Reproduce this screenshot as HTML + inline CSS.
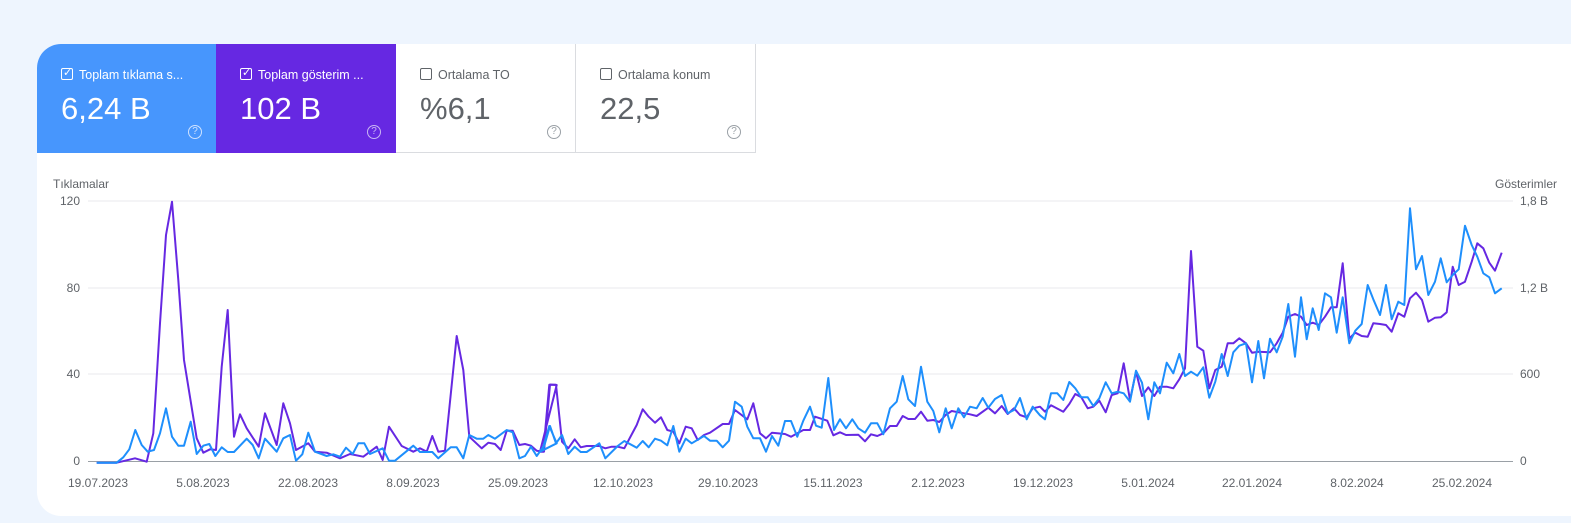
<!DOCTYPE html>
<html><head><meta charset="utf-8"><style>
body{margin:0;width:1571px;height:523px;background:#eef5fe;font-family:"Liberation Sans",sans-serif;overflow:hidden;position:relative}
.card{position:absolute;left:37px;top:44px;width:1560px;height:472px;background:#fff;border-radius:24px;overflow:hidden}
.m{position:absolute;top:0;height:109px;width:180px;box-sizing:border-box}
.m .t{position:absolute;left:24px;top:24px;font-size:12.5px;white-space:nowrap}
.m .v{position:absolute;left:24px;top:47px;font-size:31px}
.m .cb{display:inline-block;width:10px;height:10px;border:1px solid;border-radius:2px;vertical-align:-1px;margin-right:6px;position:relative}
.m .q{position:absolute;left:151px;top:81px;width:12px;height:12px;border:1.3px solid;border-radius:50%;font-size:10px;text-align:center;line-height:12px}
svg{position:absolute;left:0;top:0}
</style></head><body>
<div class="card">
<div class="m" style="left:0;background:#4796fd;color:#fff"><div class="t"><span class="cb" style="border-color:#fff"><span style="position:absolute;left:1px;top:-3px;font-size:11px">✓</span></span>Toplam tıklama s...</div><div class="v">6,24 B</div><div class="q" style="border-color:#cfe2ff;color:#cfe2ff">?</div></div>
<div class="m" style="left:179px;background:#6628e2;color:#fff"><div class="t"><span class="cb" style="border-color:#fff"><span style="position:absolute;left:1px;top:-3px;font-size:11px">✓</span></span>Toplam gösterim ...</div><div class="v">102 B</div><div class="q" style="border-color:#c9b6f4;color:#c9b6f4">?</div></div>
<div class="m" style="left:359px;border-right:1px solid #dadce0;border-bottom:1px solid #dadce0;color:#5f6368"><div class="t"><span class="cb" style="border-color:#5f6368"></span>Ortalama TO</div><div class="v">%6,1</div><div class="q" style="border-color:#9aa0a6;color:#9aa0a6">?</div></div>
<div class="m" style="left:539px;border-right:1px solid #dadce0;border-bottom:1px solid #dadce0;color:#5f6368"><div class="t"><span class="cb" style="border-color:#5f6368"></span>Ortalama konum</div><div class="v">22,5</div><div class="q" style="border-color:#9aa0a6;color:#9aa0a6">?</div></div>
</div>
<svg width="1571" height="523" id="s" font-family="Liberation Sans, sans-serif" font-size="12" fill="#5f6368">
<text x="53" y="188">Tıklamalar</text>
<text x="1557" y="188" text-anchor="end">Gösterimler</text>
<g stroke="#e8eaed" stroke-width="1"><line x1="88" y1="201" x2="1513" y2="201"/><line x1="88" y1="288" x2="1513" y2="288"/><line x1="88" y1="374" x2="1513" y2="374"/></g>
<line x1="88" y1="461.5" x2="1513" y2="461.5" stroke="#9aa0a6"/>
<g text-anchor="end"><text x="80" y="205">120</text><text x="80" y="292">80</text><text x="80" y="378">40</text><text x="80" y="465">0</text></g>
<g><text x="1520" y="205">1,8 B</text><text x="1520" y="292">1,2 B</text><text x="1520" y="378">600</text><text x="1520" y="465">0</text></g>
<g text-anchor="middle" font-size="12"><text x="98" y="487">19.07.2023</text><text x="203" y="487">5.08.2023</text><text x="308" y="487">22.08.2023</text><text x="413" y="487">8.09.2023</text><text x="518" y="487">25.09.2023</text><text x="623" y="487">12.10.2023</text><text x="728" y="487">29.10.2023</text><text x="833" y="487">15.11.2023</text><text x="938" y="487">2.12.2023</text><text x="1043" y="487">19.12.2023</text><text x="1148" y="487">5.01.2024</text><text x="1252" y="487">22.01.2024</text><text x="1357" y="487">8.02.2024</text><text x="1462" y="487">25.02.2024</text></g>
<polyline id="p" fill="none" stroke="#6628e2" stroke-width="2" stroke-linejoin="round"/>
<polyline id="b" fill="none" stroke="#1e8ffc" stroke-width="2" stroke-linejoin="round"/>
</svg>
<script>
function cv(ox,oy,a){var r=[];for(var i=0;i<a.length;i+=2)r.push((ox+a[i]/3).toFixed(1)+','+(oy+a[i+1]/3).toFixed(1));return r.join(' ');}
var P2=[110,848,170,848,225,835,260,845,280,760,300,430,318,165,336,65,355,300,372,540,410,775,430,818,450,808,468,810,485,560,503,390,522,770,540,703,560,745,596,800,615,700,650,795,670,670,690,730,708,810,745,790,765,815,800,818,840,835,870,822,910,830,950,800,968,840,987,740,1025,798,1060,815,1080,805,1100,815,1117,768,1135,815,1155,812,1190,468,1210,570,1228,770,1265,805,1285,788,1305,792,1322,810,1340,752,1358,752,1378,795,1395,792,1413,797,1430,812,1450,815,1468,614,1490,615];
var B2=[110,848,170,848,190,832,208,808,226,750,245,795,263,815,282,810,300,760,318,685,336,770,355,797,372,797,392,725,410,822,430,797,448,792,466,828,485,802,503,816,522,816,560,776,578,795,596,835,615,776,650,815,670,775,690,765,708,842,727,823,745,758,765,815,800,828,820,823,840,830,858,803,878,822,895,790,913,790,930,822,968,805,987,842,1005,842,1060,797,1080,816,1117,816,1135,835,1172,802,1190,802,1210,835,1228,765,1250,776,1270,776,1285,765,1305,776,1340,750,1358,757,1378,835,1395,828,1413,800,1430,828,1450,800,1468,738,1490,790];
var P3=[0,815,12,815,30,614,48,614,66,785,85,805,104,778,122,802,140,798,178,798,196,805,215,800,233,800,253,805,290,735,308,688,326,710,345,728,363,712,382,750,400,755,418,790,437,740,455,745,473,780,492,765,510,758,548,732,567,732,585,690,622,718,640,670,660,760,678,775,696,758,735,762,753,770,790,750,810,750,825,710,862,722,880,766,900,757,918,765,955,764,975,784,993,763,1012,768,1030,760,1050,738,1070,738,1088,708,1105,717,1125,717,1143,695,1162,722,1180,720,1198,726,1217,705,1235,693,1272,700,1290,703,1310,708,1345,683,1365,700,1385,678,1403,702,1422,685,1440,705,1460,712,1478,685];
var B3=[0,815,12,800,30,738,48,790,66,765,85,822,104,800,122,816,140,816,178,790,196,835,233,798,253,783,290,803,308,783,326,802,345,776,363,782,382,796,400,738,418,815,437,776,455,790,492,768,510,782,530,782,548,802,567,782,585,665,605,680,622,740,640,775,660,775,678,815,696,768,715,797,735,723,753,723,772,770,790,722,810,680,828,737,845,743,865,594,882,750,900,718,918,745,937,718,955,745,975,758,993,730,1012,730,1030,763,1050,685,1070,665,1088,588,1105,658,1125,678,1143,560,1162,665,1180,693,1198,757,1217,685,1235,745,1255,685,1272,712,1290,680,1310,685,1328,654,1345,683,1365,657,1385,645,1403,700,1422,690,1440,654,1460,718,1478,680];
var P4=[0,680,15,695,33,676,70,695,88,672,106,642,124,652,143,685,160,680,178,662,197,697,215,645,233,640,251,550,270,660,288,575,306,648,325,622,343,648,360,620,380,620,400,625,418,598,435,565,453,213,472,500,490,512,508,625,526,570,545,560,563,490,580,490,598,475,618,490,636,518,655,515,690,517,710,490,728,458,745,410,765,402,783,410,800,435,818,428,836,435,855,410,873,382,890,382,908,250,928,475,946,458,965,468,983,470,1000,430,1020,432,1038,435,1055,455,1075,400,1093,410,1110,355,1128,338,1146,360,1165,425,1185,413,1202,412,1220,397,1238,260,1256,315,1275,305,1295,245,1312,190,1330,205,1348,248,1365,272,1385,218];
var B4=[0,706,15,718,33,640,52,640,70,660,88,606,106,625,124,652,143,652,160,678,178,655,197,607,215,640,233,635,251,640,270,665,288,572,306,608,325,718,343,607,360,640,380,548,400,580,418,522,435,588,453,575,472,587,490,562,508,653,526,605,545,522,563,588,580,517,598,497,618,490,636,607,655,483,672,595,690,476,710,517,728,470,745,372,765,530,783,352,800,478,818,385,836,450,855,340,873,352,890,458,908,352,928,490,946,452,965,432,983,315,1000,358,1020,405,1038,315,1055,418,1075,365,1093,375,1110,85,1128,268,1146,228,1165,345,1185,305,1202,235,1220,307,1238,285,1256,268,1275,137,1295,195,1312,230,1330,280,1348,292,1365,340,1385,325];
document.getElementById('p').setAttribute('points',cv(60,180,P2)+' '+cv(540,180,P3)+' '+cv(1040,180,P4));
document.getElementById('b').setAttribute('points',cv(60,180,B2)+' '+cv(540,180,B3)+' '+cv(1040,180,B4));
</script>
</body></html>
